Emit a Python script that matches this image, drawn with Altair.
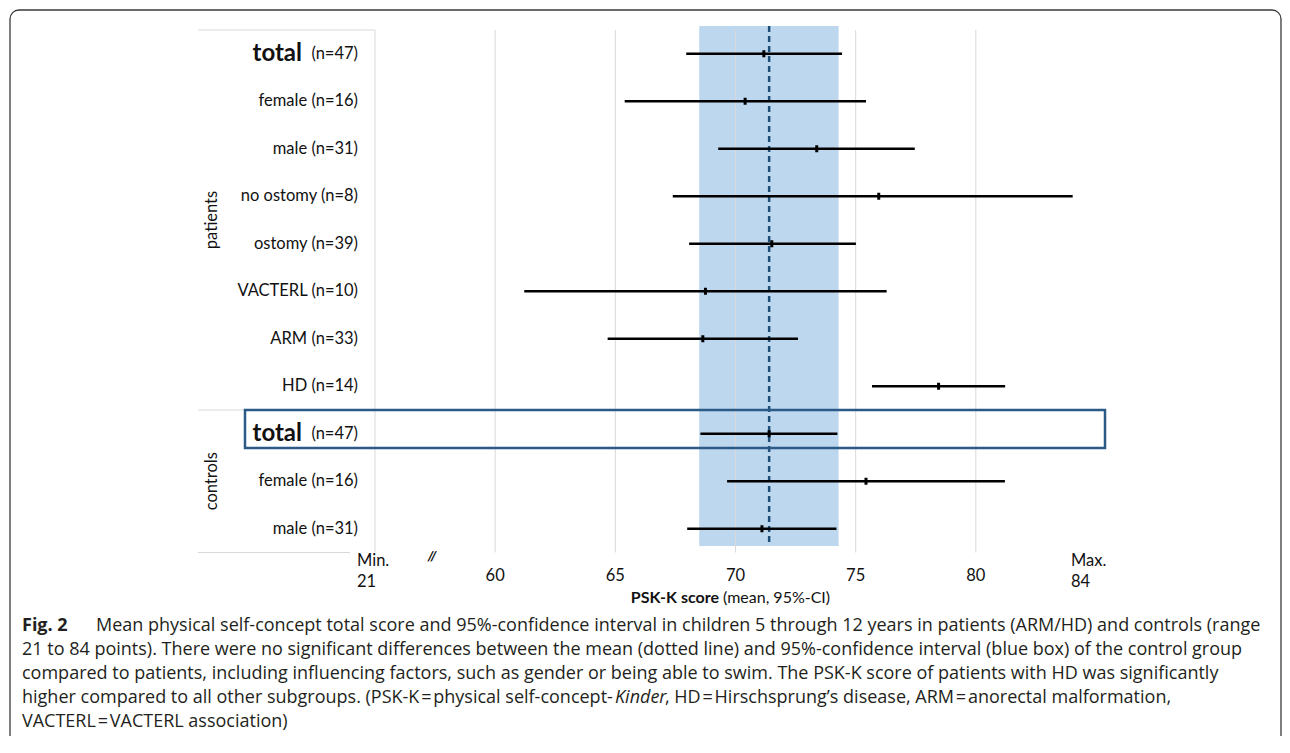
import altair as alt
import pandas as pd

# ---------------- data ----------------
labels = ["total", "female", "male", "no ostomy", "ostomy", "VACTERL", "ARM", "HD",
          "total", "female", "male"]
groups = ["patients"] * 8 + ["controls"] * 3
n_vals = [47, 16, 31, 8, 39, 10, 33, 14, 47, 16, 31]
means = [71.18, 70.40, 73.38, 75.96, 71.51, 68.75, 68.64, 78.45, 71.40, 75.43, 71.10]
ci_low = [67.95, 65.39, 69.28, 67.39, 68.07, 61.21, 64.68, 75.68, 68.54, 69.65, 67.99]
ci_high = [74.43, 75.43, 77.46, 84.03, 75.01, 76.29, 72.60, 81.22, 74.24, 81.21, 74.20]

control_mean = [71.40]
control_ci_low = [68.49]
control_ci_high = [74.29]

grid_vals = [55, 60, 65, 70, 75, 80]
tick_vals = [60, 65, 70, 75, 80]
tick_texts = ["60", "65", "70", "75", "80"]
min_val, max_val = 55, 85
min_label = ["Min.", "21"]
max_label = ["Max.", "84"]

group_names = ["patients", "controls"]
group_pos = [3.5, 9.0]
sep_pos = [-0.5, 7.5]

caption_lines = [
    "Mean physical self-concept total score and 95%-confidence interval in children 5 through 12 years in patients (ARM/HD) and controls (range",
    "21 to 84 points). There were no significant differences between the mean (dotted line) and 95%-confidence interval (blue box) of the control group",
    "compared to patients, including influencing factors, such as gender or being able to swim. The PSK-K score of patients with HD was significantly",
    "higher compared to all other subgroups. (PSK-K\u200a=\u200aphysical self-concept-",
    "VACTERL\u200a=\u200aVACTERL association)",
]
caption_italic = "Kinder"
caption_rest = ", HD\u200a=\u200aHirschsprung\u2019s disease, ARM\u200a=\u200aanorectal malformation,"

# ---------------- tables ----------------
rows = pd.DataFrame({
    "idx": list(range(len(labels))),
    "label": labels,
    "group": groups,
    "n": n_vals,
    "mean": means,
    "low": ci_low,
    "high": ci_high,
})
rows["ntext"] = [
    f"(n={n})" if lab == "total" else f"{lab} (n={n})" for lab, n in zip(labels, n_vals)
]
totals = rows[rows["label"] == "total"]

ctrl = pd.DataFrame({"m": control_mean, "lo": control_ci_low, "hi": control_ci_high})
grid = pd.DataFrame({"v": grid_vals})
ticks = pd.DataFrame({"v": tick_vals, "t": tick_texts})
grp = pd.DataFrame({"g": group_names, "pos": group_pos})
seps = pd.DataFrame({"pos": sep_pos})
cap = pd.DataFrame({"k": list(range(len(caption_lines))), "t": caption_lines})
cap["y"] = 618 + 24 * cap["k"]
cap["x"] = [88, 14, 14, 14, 14]

FONT = "Lato"
CAPFONT = "Open Sans"
CAP = 18
TXT = "#111111"
xs = alt.Scale(domain=[55, 85], range=[367, 1088], nice=False, zero=False)
ys = alt.Scale(domain=[-0.5, 10.5], range=[22, 544.5], nice=False, zero=False)

base = alt.Chart(rows)

frame = alt.Chart(pd.DataFrame({"a": [0]})).mark_rect(
    fill="white", stroke="#3a3a3a", strokeWidth=1.3, cornerRadius=9
).encode(x=alt.value(2), x2=alt.value(1273), y=alt.value(2), y2=alt.value(770))

band = alt.Chart(ctrl).mark_rect(color="#BDD7EE").encode(
    x=alt.X("lo:Q", scale=xs, axis=None), x2="hi:Q",
    y=alt.value(18), y2=alt.value(538)
)

gridlines = alt.Chart(grid).mark_rule(color="#D9D9D9", strokeWidth=1).encode(
    x=alt.X("v:Q", scale=xs, axis=None), y=alt.value(22), y2=alt.value(544.5)
)

dashed = alt.Chart(ctrl).mark_rule(
    color="#1F4E79", strokeWidth=2.5, strokeDash=[6, 4]
).encode(x=alt.X("m:Q", scale=xs, axis=None), y=alt.value(18), y2=alt.value(538))

bars = base.mark_rule(color="black", strokeWidth=2.5).encode(
    x=alt.X("low:Q", scale=xs, axis=None), x2="high:Q",
    y=alt.Y("idx:Q", scale=ys, axis=None)
)

mean_ticks = base.mark_tick(
    color="black", orient="vertical", size=7, thickness=3, opacity=1
).encode(
    x=alt.X("mean:Q", scale=xs, axis=None), y=alt.Y("idx:Q", scale=ys, axis=None)
)

cat_labels = base.mark_text(
    align="right", baseline="middle", font=FONT, fontSize=16.5, color=TXT
).encode(x=alt.value(350), y=alt.Y("idx:Q", scale=ys, axis=None), text="ntext:N")

total_labels = alt.Chart(totals).mark_text(
    align="right", baseline="middle", font=FONT, fontSize=24, fontWeight="bold", color=TXT
).encode(x=alt.value(294), y=alt.Y("idx:Q", scale=ys, axis=None), text="label:N")

group_labels = alt.Chart(grp).mark_text(
    angle=270, align="center", baseline="middle", font=FONT, fontSize=16.5, color=TXT
).encode(x=alt.value(204), y=alt.Y("pos:Q", scale=ys, axis=None), text="g:N")

sep_lines = alt.Chart(seps).mark_rule(color="#D9D9D9", strokeWidth=1).encode(
    x=alt.value(190), x2=alt.value(367), y=alt.Y("pos:Q", scale=ys, axis=None)
)
bottom_sep = alt.Chart(pd.DataFrame({"pos": [10.5]})).mark_rule(
    color="#D9D9D9", strokeWidth=1
).encode(x=alt.value(190), x2=alt.value(342), y=alt.Y("pos:Q", scale=ys, axis=None))

highlight = alt.Chart(pd.DataFrame({"a": [7.5], "b": [8.3]})).mark_rect(
    fill="transparent", stroke="#2B5A87", strokeWidth=2.5
).encode(
    x=alt.value(237), x2=alt.value(1097),
    y=alt.Y("a:Q", scale=ys, axis=None), y2="b:Q"
)

tick_labels = alt.Chart(ticks).mark_text(
    align="center", baseline="middle", font=FONT, fontSize=16.5, color=TXT
).encode(x=alt.X("v:Q", scale=xs, axis=None), y=alt.value(568), text="t:N")


def ext_label(val, lines, dx):
    df = pd.DataFrame({"v": [val, val], "t": lines, "y": [553, 574]})
    return alt.Chart(df).mark_text(
        align="left", baseline="middle", font=FONT, fontSize=16.5, color=TXT, dx=dx
    ).encode(x=alt.X("v:Q", scale=xs, axis=None), y=alt.Y("y:Q", scale=None), text="t:N")


min_labels = ext_label(min_val, min_label, -18)
max_labels = ext_label(max_val, max_label, -25)

break_mark = alt.Chart(pd.DataFrame({"t": ["//"]})).mark_text(
    align="center", baseline="middle", font=FONT, fontSize=14, fontStyle="italic",
    fontWeight="bold", color=TXT
).encode(x=alt.value(424), y=alt.value(549), text="t:N")

title_bold = alt.Chart(pd.DataFrame({"t": ["PSK-K score"]})).mark_text(
    align="right", baseline="middle", font=FONT, fontSize=16, fontWeight="bold", color=TXT
).encode(x=alt.value(711), y=alt.value(590), text="t:N")
title_rest = alt.Chart(pd.DataFrame({"t": ["(mean, 95%-CI)"]})).mark_text(
    align="left", baseline="middle", font=FONT, fontSize=16, color=TXT
).encode(x=alt.value(715), y=alt.value(590), text="t:N")

cap_fig = alt.Chart(pd.DataFrame({"t": ["Fig. 2"]})).mark_text(
    align="left", baseline="middle", font=CAPFONT, fontSize=CAP, fontWeight="bold", color="#231f20"
).encode(x=alt.value(14), y=alt.value(618), text="t:N")
cap_text = alt.Chart(cap).mark_text(
    align="left", baseline="middle", font=CAPFONT, fontSize=CAP, color="#231f20"
).encode(x=alt.X("x:Q", scale=None), y=alt.Y("y:Q", scale=None), text="t:N")
cap_ital = alt.Chart(pd.DataFrame({"t": [caption_italic]})).mark_text(
    align="left", baseline="middle", font=CAPFONT, fontSize=CAP, fontStyle="italic", color="#231f20"
).encode(x=alt.value(607), y=alt.value(690), text="t:N")
cap_rest = alt.Chart(pd.DataFrame({"t": [caption_rest]})).mark_text(
    align="left", baseline="middle", font=CAPFONT, fontSize=CAP, color="#231f20"
).encode(x=alt.value(657), y=alt.value(690), text="t:N")

chart = alt.layer(
    frame, band, gridlines, dashed, bars, mean_ticks, sep_lines, bottom_sep,
    cat_labels, total_labels, group_labels, highlight,
    tick_labels, min_labels, max_labels, break_mark,
    title_bold, title_rest, cap_fig, cap_text, cap_ital, cap_rest
).properties(
    width=1274, height=728, padding=0, autosize="none"
).configure_view(stroke=None)

chart.save("out.html", embed_options={"renderer": "svg", "actions": False})
